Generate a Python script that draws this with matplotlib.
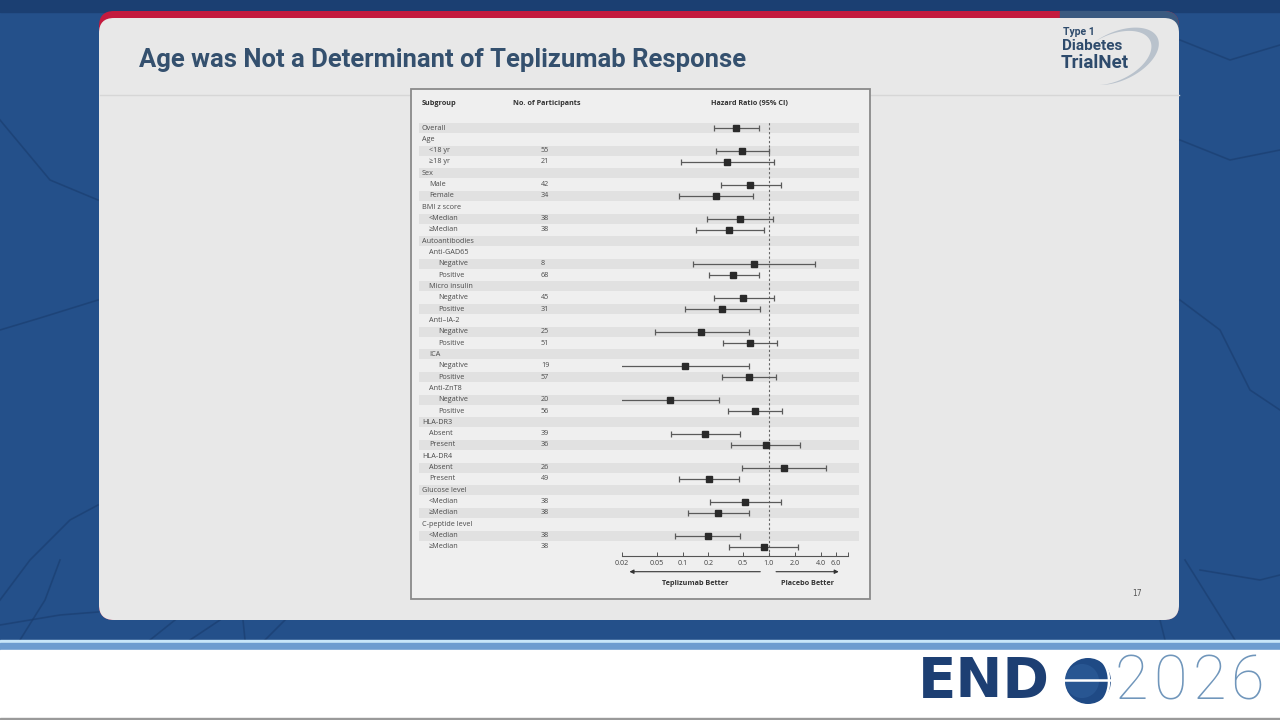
import numpy as np
import matplotlib.pyplot as plt
from matplotlib.patches import FancyBboxPatch, Rectangle, Polygon, Circle

# subgroup rows (level = indent depth)
labels = ["Overall", "Age", "<18 yr", "\u226518 yr", "Sex", "Male", "Female",
          "BMI z score", "<Median", "\u2265Median", "Autoantibodies",
          "Anti-GAD65", "Negative", "Positive", "Micro insulin", "Negative", "Positive",
          "Anti\u2013IA-2", "Negative", "Positive", "ICA", "Negative", "Positive",
          "Anti-ZnT8", "Negative", "Positive", "HLA-DR3", "Absent", "Present",
          "HLA-DR4", "Absent", "Present", "Glucose level", "<Median", "\u2265Median",
          "C-peptide level", "<Median", "\u2265Median"]
levels = [0, 0, 1, 1, 0, 1, 1, 0, 1, 1, 0, 1, 2, 2, 1, 2, 2, 1, 2, 2, 1, 2, 2,
          1, 2, 2, 0, 1, 1, 0, 1, 1, 0, 1, 1, 0, 1, 1]
n_part = ["", "", "55", "21", "", "42", "34", "", "38", "38", "", "", "8", "68",
          "", "45", "31", "", "25", "51", "", "19", "57", "", "20", "56", "",
          "39", "36", "", "26", "49", "", "38", "38", "", "38", "38"]
nan = np.nan
hr = [0.42, nan, 0.49, 0.33, nan, 0.61, 0.245, nan, 0.46, 0.35, nan,
      nan, 0.675, 0.39, nan, 0.51, 0.29, nan, 0.165, 0.60, nan, 0.106, 0.59,
      nan, 0.072, 0.69, nan, 0.18, 0.93, nan, 1.5, 0.203, nan, 0.535, 0.26,
      nan, 0.196, 0.875]
ci_lo = [0.23, nan, 0.245, 0.095, nan, 0.28, 0.092, nan, 0.194, 0.142, nan,
         nan, 0.131, 0.203, nan, 0.234, 0.108, nan, 0.048, 0.295, nan, 0.0187, 0.29,
         nan, 0.019, 0.335, nan, 0.073, 0.365, nan, 0.486, 0.092, nan, 0.21, 0.116,
         nan, 0.081, 0.345]
ci_hi = [0.77, nan, 1.0, 1.16, nan, 1.38, 0.66, nan, 1.11, 0.875, nan,
         nan, 3.44, 0.765, nan, 1.14, 0.79, nan, 0.59, 1.25, nan, 0.59, 1.22,
         nan, 0.265, 1.43, nan, 0.46, 2.33, nan, 4.62, 0.45, nan, 1.39, 0.59,
         nan, 0.47, 2.2]
tick_vals = [0.02, 0.05, 0.1, 0.2, 0.5, 1.0, 2.0, 4.0, 6.0]
tick_labels = ["0.02", "0.05", "0.1", "0.2", "0.5", "1.0", "2.0", "4.0", "6.0"]

W, H = 1280, 720
fig = plt.figure(figsize=(12.8, 7.2), dpi=100)
bg = fig.add_axes([0, 0, 1, 1])
bg.set_xlim(0, W)
bg.set_ylim(H, 0)
bg.axis("off")

# slide background
bg.add_patch(Rectangle((0, 0), W, 642, color="#24508a", zorder=0))
bg.add_patch(Rectangle((0, 0), W, 12, color="#1b3f72", zorder=0))
texture = [
    [(0, 330), (40, 318), (98, 300)], [(0, 600), (30, 560), (70, 520), (98, 505)],
    [(0, 625), (60, 615), (98, 612)], [(20, 640), (45, 600), (60, 560)],
    [(150, 640), (175, 620)], [(190, 640), (220, 620)], [(245, 640), (243, 620)],
    [(265, 640), (285, 620)], [(1180, 140), (1230, 160), (1280, 150)],
    [(1180, 300), (1220, 330), (1250, 390), (1280, 410)],
    [(1185, 560), (1210, 600), (1235, 640)], [(1200, 570), (1260, 580), (1280, 575)],
    [(1160, 620), (1165, 640)], [(0, 120), (50, 180), (98, 200)],
    [(1180, 40), (1230, 60), (1280, 45)],
]
for pts in texture:
    p = np.array(pts)
    bg.plot(p[:, 0], p[:, 1], color="#183a6a", lw=1.2, alpha=0.55, zorder=0.5)
bg.add_patch(Rectangle((0, 640), W, 3, color="#c8e6f8", zorder=1))
bg.add_patch(Rectangle((0, 643), W, 7, color="#6d9ccf", zorder=1))
bg.add_patch(Rectangle((0, 650), W, 68, color="white", zorder=1))
bg.add_patch(Rectangle((0, 718), W, 2, color="#9a9a9a", zorder=1))

# card with red top band (slate at the right end)
bg.add_patch(FancyBboxPatch((114, 26), 1050, 579, boxstyle="round,pad=15",
                            facecolor="#c41a3e", edgecolor="none", zorder=1.1))
bg.add_patch(FancyBboxPatch((1075, 26), 89, 579, boxstyle="round,pad=15",
                            facecolor="#3b5a80", edgecolor="none", zorder=1.12))
bg.add_patch(Rectangle((1060, 11), 30, 20, color="#3b5a80", zorder=1.13))
bg.add_patch(FancyBboxPatch((114, 33), 1050, 572, boxstyle="round,pad=15",
                            facecolor="#e8e8e8", edgecolor="none", zorder=1.2))
bg.plot([100, 1179], [95, 95], color="#d6d6d6", lw=1, zorder=1.3)

title = bg.text(139, 60, "Age was Not a Determinant of Teplizumab Response",
                fontsize=18.5, fontweight="bold", family="Roboto", color="#34506e",
                va="center", ha="left", zorder=3)
fig.canvas.draw()
tw = title.get_window_extent().width
title.set_fontsize(18.5 * 607 / tw)

bg.text(1137, 593, "17", fontsize=5.5, color="#555555", ha="center", va="center", zorder=3)

# TrialNet logo
t = np.linspace(np.radians(-125), np.radians(105), 80)
thick = 8 * np.sin(np.pi * (t - t[0]) / (t[-1] - t[0])) ** 1.2
rot = np.radians(25)
def ell(a, b):
    x, y = a * np.cos(t), b * np.sin(t)
    return 1113 + x * np.cos(rot) - y * np.sin(rot), 58 - (x * np.sin(rot) + y * np.cos(rot))
xo, yo = ell(41 + thick, 23 + thick * 0.5)
xi, yi = ell(41, 23)
bg.add_patch(Polygon(np.column_stack([np.r_[xo, xi[::-1]], np.r_[yo, yi[::-1]]]),
                     facecolor="#b9c2cc", edgecolor="none", zorder=2))
bg.text(1063, 32, "Type 1", fontsize=7.5, fontweight="bold", family="Roboto",
        color="#2e4b6c", va="center", zorder=3)
bg.text(1062, 46, "Diabetes", fontsize=11, fontweight="bold", family="Roboto",
        color="#2e4b6c", va="center", zorder=3)
bg.text(1061, 63, "TrialNet", fontsize=13.5, fontweight="bold", family="Roboto",
        color="#2e4b6c", va="center", zorder=3)

# ENDO 2026 logo
bg.text(918, 682, "END", fontsize=40.5, fontweight="bold", family="DejaVu Sans",
        color="#1d3f73", va="center", ha="left", zorder=3)
bg.add_patch(Circle((1088, 681), 23, facecolor="#1f4a85", edgecolor="none", zorder=3))
bg.add_patch(Circle((1082, 681), 17, facecolor="#2f5f9c", edgecolor="none", zorder=3.1, alpha=0.6))
bg.plot([1065, 1111], [680, 680], color="white", lw=1.8, zorder=3.2)
a = np.linspace(-1.25, 1.25, 40)
bg.plot(1095 + 14 * np.cos(a), 681 - 23 * np.sin(a), color="white", lw=1.8, zorder=3.2)
for k, ch in enumerate("2026"):
    bg.text(1115 + 38.5 * k, 682, ch, fontsize=44, fontweight="light", family="Roboto",
            color="#7096bb", va="center", ha="left", zorder=3)

# forest panel
bg.add_patch(Rectangle((411, 89), 459, 510, facecolor="#efefef", edgecolor="#8a8a8a",
                       lw=1.3, zorder=2))

ROW0, DY, AXIS_Y = 128, 11.32, 556
PX1, PXDEC = 768.7, 86.2
nrows = len(labels)
rows = np.arange(nrows)
ybot = (AXIS_Y - ROW0) / DY
ytop_px = ROW0 - 0.5 * DY
pos_b = 1 - AXIS_Y / H
pos_h = (AXIS_Y - ytop_px) / H
xmin, xmax = 0.02, 8.25
x0_px = PX1 + np.log10(xmin) * PXDEC
x1_px = PX1 + np.log10(xmax) * PXDEC

tab = fig.add_axes([411 / W, pos_b, 459 / W, pos_h])
tab.set_xlim(411, 870)
tab.set_ylim(ybot, -0.5)
tab.axis("off")
tab.set_zorder(3)
shaded = rows[rows % 2 == 0]
tab.barh(shaded, 440, left=419, height=0.88, color="#e1e1e1", zorder=1)
fam = ["Open Sans", "DejaVu Sans"]
indent = {0: 422, 1: 429, 2: 438}
for i in range(nrows):
    tab.text(indent[levels[i]], i, labels[i], fontsize=5.2, family=fam, color="#4a4a4a",
             va="center", ha="left", zorder=2)
    if n_part[i]:
        tab.text(541, i, n_part[i], fontsize=5.2, family=fam, color="#4a4a4a",
                 va="center", ha="left", zorder=2)
hy = (103 - ROW0) / DY
tab.text(422, hy, "Subgroup", fontsize=5.2, fontweight="bold", family=fam, color="#333333",
         va="center", clip_on=False)
tab.text(513, hy, "No. of Participants", fontsize=5.2, fontweight="bold", family=fam,
         color="#333333", va="center", clip_on=False)

ax = fig.add_axes([x0_px / W, pos_b, (x1_px - x0_px) / W, pos_h])
ax.set_zorder(4)
ax.patch.set_visible(False)
ax.set_xscale("log")
ax.set_xlim(xmin, xmax)
ax.set_ylim(ybot, -0.5)
for s in ["top", "left", "right"]:
    ax.spines[s].set_visible(False)
ax.spines["bottom"].set_color("#555555")
ax.spines["bottom"].set_linewidth(0.8)
ax.set_yticks([])
ax.set_xticks(tick_vals)
ax.set_xticklabels(tick_labels)
ax.set_xticks([xmax], minor=True)
ax.xaxis.set_minor_formatter(plt.NullFormatter())
ax.tick_params(axis="x", which="both", direction="in", length=3, width=0.7,
               color="#555555", labelsize=5.2, labelcolor="#444444", pad=3)
for lab in ax.get_xticklabels():
    lab.set_family(fam)

ax.axvline(1.0, color="#666666", lw=0.8, ls=(0, (2, 2)), zorder=1)
hr_a, lo_a, hi_a = np.array(hr), np.array(ci_lo), np.array(ci_hi)
ax.errorbar(hr_a, rows, xerr=[hr_a - lo_a, hi_a - hr_a], fmt="s", ms=4.3,
            mfc="#2a2a2a", mec="#2a2a2a", ecolor="#5a5a5a", elinewidth=0.9,
            capsize=2.2, capthick=0.9, zorder=3)

ax.text(0.59, hy, "Hazard Ratio (95% CI)", fontsize=5.2, fontweight="bold", family=fam,
        color="#333333", va="center", ha="center", clip_on=False)
ya = (571.7 - ROW0) / DY
ax.annotate("", xy=(0.0225, ya), xytext=(0.86, ya), annotation_clip=False,
            arrowprops=dict(arrowstyle="-|>", color="#333333", lw=0.8, mutation_scale=6))
ax.annotate("", xy=(7.0, ya), xytext=(1.13, ya), annotation_clip=False,
            arrowprops=dict(arrowstyle="-|>", color="#333333", lw=0.8, mutation_scale=6))
yl = (583.3 - ROW0) / DY
ax.text(0.14, yl, "Teplizumab Better", fontsize=5.2, fontweight="bold", family=fam,
        color="#333333", ha="center", va="center", clip_on=False)
ax.text(2.83, yl, "Placebo Better", fontsize=5.2, fontweight="bold", family=fam,
        color="#333333", ha="center", va="center", clip_on=False)

fig.savefig("out.png", dpi=100)
